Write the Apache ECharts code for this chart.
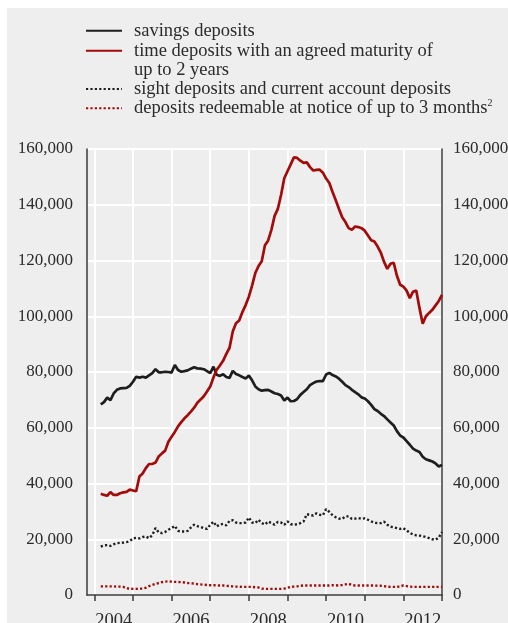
<!DOCTYPE html>
<html>
<head>
<meta charset="utf-8">
<script src="https://cdn.jsdelivr.net/npm/echarts@6/dist/echarts.min.js"></script>
<style>
  html, body { margin: 0; padding: 0; background: #fff; }
  #panel { position: absolute; left: 7px; top: 8px; right: 0; bottom: 0; background: #eeeeee; }
  #chart { position: absolute; left: 0; top: 0; width: 508px; height: 623px; }
</style>
</head>
<body>
<div id="panel"></div>
<div id="chart"></div>
<script>
// monthly end-of-month observations, Feb 2004 .. Dec 2012
const startYear = 2004;
const startMonth = 2;

const savings = [
  68400, 69200, 70800, 69900, 72300, 73600, 74100, 74200, 74300, 75000, 76500,
  78300, 78000, 78300, 78000, 78800, 79600, 81000, 79900, 79900, 80100, 80000, 79800,
  82500, 80700, 80100, 80300, 80600, 81200, 81700, 81300, 81200, 81000, 80300, 79600,
  81900, 79000, 78600, 79200, 78200, 77900, 80400, 79300, 78800, 78200, 77700, 78700,
  77000, 74800, 73800, 73300, 73500, 73600, 73000, 72400, 72100, 71600, 69800, 70800,
  69500, 69600, 70300, 71800, 72800, 73800, 75300, 76000, 76600, 76700, 76700, 79100,
  79700, 78900, 78400, 77600, 76500, 75300, 74600, 73600, 72800, 72000, 70900, 70500,
  69500, 68200, 66700, 66000, 65000, 64200, 63000, 61900, 60800, 58800, 57200, 56500,
  55200, 53900, 52500, 51800, 51300, 49600, 48700, 48300, 47900, 47200, 46100, 46700
];

const timeDeposits = [
  36300, 35900, 35600, 36900, 35900, 35900, 36500, 36800, 37000, 37800, 37500,
  37200, 42500, 43600, 45500, 47000, 47000, 47500, 49700, 50800, 51800, 55000, 56800,
  58500, 60500, 62000, 63400, 64500, 65800, 67200, 69000, 70100, 71300, 73000, 74800,
  78000, 80800, 82300, 84000, 86500, 88700, 94500, 97500, 98500, 101500, 104000, 107000,
  111000, 115500, 118000, 119700, 125500, 127200, 131000, 136000, 138500, 143500, 149500, 152000,
  154500, 157000, 156800, 155800, 155000, 155200, 153500, 152300, 152500, 152600, 151500, 149400,
  147800, 144600, 141600, 138500, 135500, 133800, 131600, 131000, 132200, 132000, 131600, 130700,
  129000, 127300, 126800, 125000, 122800, 119500, 117000, 118800, 119200, 114500, 111300, 110600,
  109200, 106500, 108800, 109200, 103000, 97300, 100000, 101200, 102300, 103900, 105500, 107700
];

const sightDeposits = [
  17400, 17800, 17900, 17600, 18200, 18600, 18700, 18800, 19000, 19300, 20300,
  20500, 20300, 20800, 21000, 20400, 21500, 24000, 22500, 22200, 22600, 23400, 24000,
  24800, 23000, 22800, 22800, 23000, 24200, 25200, 24700, 24400, 24000, 23700, 25200,
  26300, 24600, 25300, 25500, 25000, 26600, 26800, 26000, 25800, 25800, 26000, 27800,
  26000, 25800, 27000, 25800, 25300, 26400, 25800, 25200, 26200, 26000, 25200, 26400,
  25400, 25200, 25400, 25800, 26400, 29000, 28700, 28500, 29300, 28800, 28600, 30800,
  29800, 28600, 27900, 27400, 27300, 28200, 28200, 27300, 27400, 27600, 27300, 27500,
  27000, 26400, 25900, 25800, 25800, 26300, 25200, 24500, 24300, 24000, 23700, 24000,
  23200, 22300, 21700, 21400, 21300, 21100, 20800, 20400, 20000, 19800, 20600, 22600
];

const noticeDeposits = [
  3100, 3100, 3100, 3100, 3100, 3000, 3000, 2900, 2400, 2300, 2200,
  2200, 2300, 2300, 2600, 3200, 3600, 4000, 4300, 4600, 4800, 4900, 4800,
  4700, 4700, 4600, 4500, 4300, 4200, 4100, 3900, 3800, 3700, 3600, 3500,
  3500, 3500, 3400, 3400, 3300, 3200, 3100, 3000, 3000, 2900, 2900, 2900,
  2900, 2800, 2700, 2300, 2200, 2200, 2200, 2200, 2200, 2200, 2300, 2600,
  2900, 3000, 3100, 3300, 3400, 3400, 3400, 3400, 3400, 3400, 3400, 3400,
  3400, 3500, 3400, 3500, 3600, 3800, 4000, 3600, 3400, 3400, 3400, 3400,
  3400, 3400, 3400, 3300, 3300, 3200, 3000, 2900, 2900, 2900, 3100, 3400,
  3200, 3000, 2900, 2900, 2900, 2900, 2900, 2900, 2900, 2900, 2900, 2900
];

const yearTicks = [2004, 2005, 2006, 2007, 2008, 2009, 2010, 2011, 2012, 2013];
const yearLabels = [2004, 2006, 2008, 2010, 2012];

const names = {
  savings: 'savings deposits',
  time: 'time deposits with an agreed maturity of up to 2 years',
  sight: 'sight deposits and current account deposits',
  notice: 'deposits redeemable at notice of up to 3 months'
};

const monthPos = savings.map((_, i) => startYear + (startMonth + i) / 12);
const pairs = values => values.map((v, i) => [monthPos[i], v]);

const serif = "'Liberation Serif', 'DejaVu Serif', serif";
const textColor = '#2b2b2b';
const black = '#1e1e1e';
const red = '#a30a0a';

const legendText = {
  fontFamily: serif,
  fontSize: 18.5,
  lineHeight: 19.3,
  color: textColor,
  padding: [0, 0, 0, 7]
};

const legendBase = {
  orient: 'vertical',
  left: 85,
  padding: 0,
  itemWidth: 36,
  itemHeight: 14,
  itemGap: 0,
  selectedMode: false,
  itemStyle: { opacity: 0 },
  textStyle: legendText
};

const yAxisBase = {
  type: 'value',
  min: 0,
  max: 160000,
  interval: 20000,
  axisLine: { show: true, lineStyle: { color: '#3a3a3a', width: 1.5 } },
  axisTick: { show: false },
  axisLabel: {
    fontFamily: serif,
    fontSize: 17,
    color: textColor,
    formatter: v => v.toLocaleString('en-US')
  }
};

const chart = echarts.init(document.getElementById('chart'));
chart.setOption({
  animation: false,
  backgroundColor: 'transparent',
  grid: { left: 87, right: 66, top: 149, bottom: 28, outerBoundsMode: 'none', containLabel: false },
  legend: [
    Object.assign({}, legendBase, { top: 21.2, data: [names.savings] }),
    Object.assign({}, legendBase, {
      top: 21.8,
      data: [names.time],
      // blank first line keeps the icon level with the first text line
      formatter: () => ' \ntime deposits with an agreed maturity of\nup to 2 years'
    }),
    Object.assign({}, legendBase, {
      top: 79.4,
      data: [names.sight, names.notice],
      formatter: name => name === names.notice ? name + '{sup|2}' : name,
      textStyle: Object.assign({}, legendText, {
        rich: { sup: { fontFamily: serif, fontSize: 10, color: textColor, verticalAlign: 'top', lineHeight: 19.3 } }
      })
    })
  ],
  xAxis: {
    type: 'value',
    min: 2003.81,
    max: 2013,
    offset: 3,
    axisLine: { show: true, lineStyle: { color: '#3a3a3a', width: 1.5 } },
    axisTick: { show: true, customValues: yearTicks, length: 6, lineStyle: { color: '#3a3a3a', width: 1.5 } },
    axisLabel: {
      customValues: yearLabels.map(y => y + 0.5),
      formatter: v => String(Math.floor(v)),
      fontFamily: serif,
      fontSize: 18.5,
      color: textColor,
      margin: 14
    },
    splitLine: { show: true, lineStyle: { color: '#ffffff', width: 2 } }
  },
  yAxis: [
    Object.assign({}, yAxisBase, {
      position: 'left',
      splitLine: { show: true, lineStyle: { color: '#ffffff', width: 2 } },
      axisLabel: Object.assign({}, yAxisBase.axisLabel, { margin: 14 })
    }),
    Object.assign({}, yAxisBase, {
      position: 'right',
      splitLine: { show: false },
      axisLabel: Object.assign({}, yAxisBase.axisLabel, { margin: 11 })
    })
  ],
  series: [
    {
      name: names.savings, type: 'line', data: pairs(savings), symbol: 'none',
      itemStyle: { color: black }, lineStyle: { color: black, width: 2.7 }
    },
    {
      name: names.time, type: 'line', data: pairs(timeDeposits), symbol: 'none',
      itemStyle: { color: red }, lineStyle: { color: red, width: 2.7 }
    },
    {
      name: names.sight, type: 'line', data: pairs(sightDeposits), symbol: 'none',
      itemStyle: { color: black }, lineStyle: { color: black, width: 2.4, type: [2.2, 2.2] }
    },
    {
      name: names.notice, type: 'line', data: pairs(noticeDeposits), symbol: 'none',
      itemStyle: { color: red }, lineStyle: { color: red, width: 2.4, type: [2.2, 2.2] }
    }
  ]
});
</script>
</body>
</html>
